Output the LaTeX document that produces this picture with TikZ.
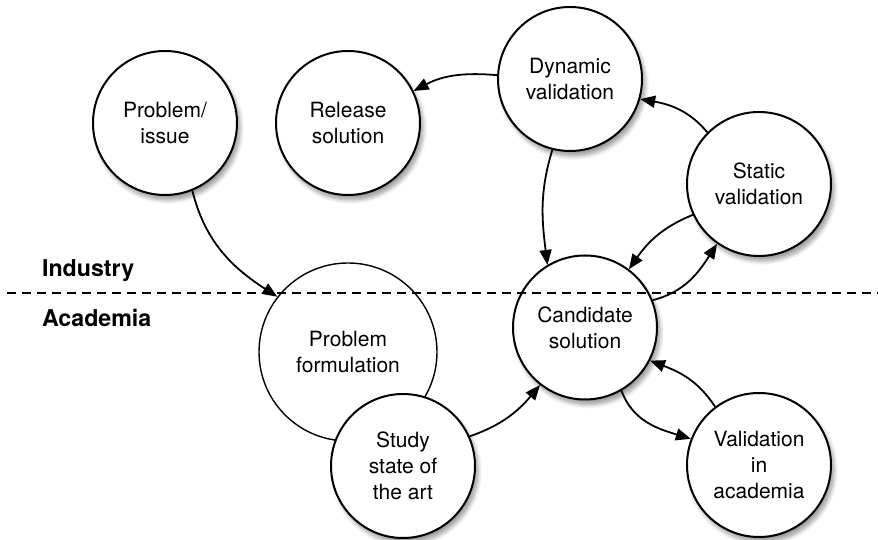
\documentclass[tikz,border=0pt]{standalone}
\usepackage{fontspec}
\setmainfont{TeX Gyre Heros}
\usetikzlibrary{arrows.meta,shadows.blur}
\tikzset{
  plain/.style={circle,draw=black,line width=1pt,fill=white,
    minimum size=72pt,inner sep=0pt,align=center,
    font=\fontsize{10.5}{13}\selectfont},
  stage/.style={plain,blur shadow={shadow xshift=1.5pt,shadow yshift=-2.5pt,
    shadow blur steps=8,shadow opacity=40}},
  flow/.style={-{Triangle[length=7.5pt,width=6pt]},line width=0.9pt},
  side/.style={font=\fontsize{11.6}{14}\selectfont\bfseries,anchor=base west},
}

\begin{document}
\begin{tikzpicture}[x=0.5pt,y=0.5pt]
  \useasboundingbox (0,0) rectangle (878,540);

  \node[plain,line width=0.7pt,minimum size=89pt] (form) at (348,188)
    {Problem\\formulation};
  \node[stage] (study) at (403,74) {Study\\state of\\the art};

  \node[stage] (issue) at (165,417) {Problem/\\issue};
  \node[stage] (release) at (348,417) {Release\\solution};
  \node[stage] (dyn) at (570,461) {Dynamic\\validation};
  \node[stage] (static) at (759,356) {Static\\validation};
  \node[stage] (cand) at (585,212.5) {Candidate\\solution};
  \node[stage] (acad) at (759,75) {Validation\\in\\academia};

  % border between the two worlds
  \coordinate (west) at (7,246.7);
  \coordinate (east) at (878,246.7);
  \draw[dash pattern=on 4.5pt off 3pt,line width=1pt] (west) -- (east);
  \node[side] (ind) at (35,263.3) {Industry};
  \node[side] (aca) at (35,213.3) {Academia};

  \draw[flow] (issue.-68) to[out=-76,in=147] (form.142);
  \draw[flow] (dyn.177) to[out=175,in=28] (release.26);
  \draw[flow] (dyn.-104) to[out=-107,in=97] (cand.121);
  \draw[flow] (static.135) to[out=130,in=-10] (dyn.-16);
  \draw[flow] (static.205) to[out=202,in=55] (cand.53);
  \draw[flow] (cand.22) to[out=14,in=237] (static.235);
  \draw[flow] (study.24) to[out=19,in=230] (cand.232);
  \draw[flow] (cand.-60) to[out=-70,in=163] (acad.159);
  \draw[flow] (acad.127) to[out=123,in=-21] (cand.-27);
\end{tikzpicture}
\end{document}
